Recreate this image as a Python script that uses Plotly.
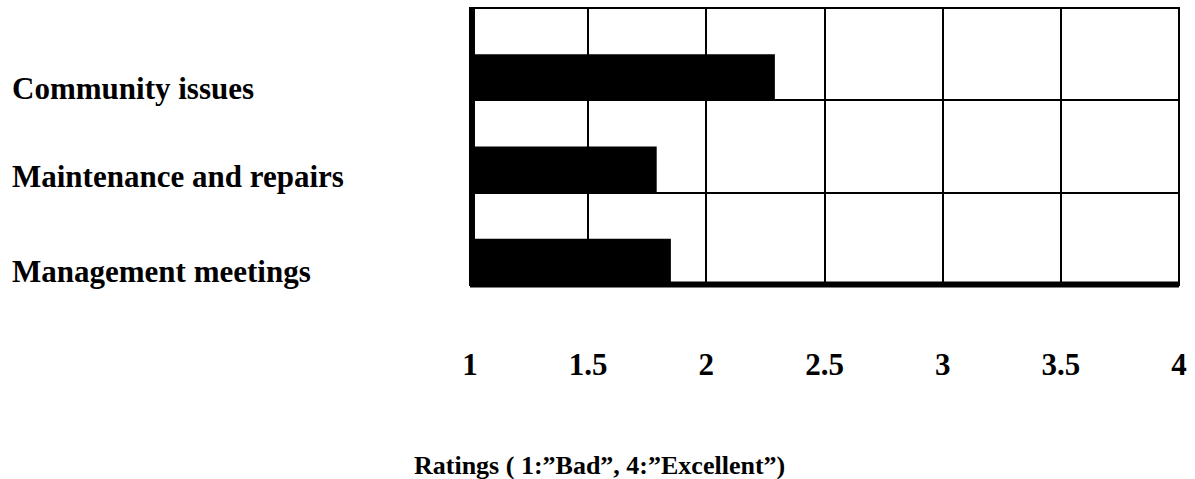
import plotly.graph_objects as go

# Ratings per topic (scale 1 = "Bad" to 4 = "Excellent")
topics = ["Community issues", "Maintenance and repairs", "Management meetings"]
ratings = [2.29, 1.79, 1.85]
x_ticks = [1, 1.5, 2, 2.5, 3, 3.5, 4]
x_tick_text = ["1", "1.5", "2", "2.5", "3", "3.5", "4"]
axis_title = "Ratings ( 1:\u201dBad\u201d, 4:\u201dExcellent\u201d)"

W, H = 1195, 479
L, R, T, B = 470, 12, 8, 194
plot_w, plot_h = W - L - R, H - T - B
FONT = "Liberation Serif"


def px_x(px):
    return (px - L) / plot_w


def px_y(py):
    return (H - B - py) / plot_h


positions = list(range(len(topics)))

fig = go.Figure()
fig.add_trace(go.Bar(
    y=positions,
    x=ratings,
    orientation="h",
    width=0.5,
    offset=0,
    marker=dict(color="black", line=dict(width=0)),
    showlegend=False,
    hoverinfo="skip",
))

fig.update_layout(
    width=W, height=H,
    margin=dict(l=L, r=R, t=T, b=B, pad=0),
    paper_bgcolor="white", plot_bgcolor="white",
    font=dict(family=FONT, color="black"),
    xaxis=dict(
        range=[1, 4], tickvals=x_ticks, ticktext=x_tick_text,
        showgrid=True, gridcolor="black", gridwidth=2,
        zeroline=False, showline=False, ticks="",
        ticklabelstandoff=58,
        tickfont=dict(family=FONT, size=31, color="black", weight="bold"),
    ),
    yaxis=dict(
        range=[len(topics) - 0.5, -0.5],
        tickvals=[p + 0.5 for p in positions[:-1]],
        showticklabels=False, showgrid=True, gridcolor="black", gridwidth=2,
        zeroline=False, showline=False, ticks="",
    ),
    shapes=[
        dict(type="rect", xref="paper", yref="paper", x0=0, x1=1, y0=0, y1=1,
             line=dict(color="black", width=2), layer="above"),
        dict(type="line", xref="paper", yref="paper", x0=px_x(472), x1=px_x(472), y0=0, y1=1,
             line=dict(color="black", width=6), layer="above"),
        dict(type="line", xref="paper", yref="paper", x0=0, x1=1, y0=px_y(284.5), y1=px_y(284.5),
             line=dict(color="black", width=6), layer="above"),
    ],
)

label_centers = [88, 176, 271]
for name, cy in zip(topics, label_centers):
    fig.add_annotation(
        text="<b>" + name + "</b>", x=px_x(7), y=px_y(cy), xref="paper", yref="paper",
        xanchor="left", yanchor="middle", showarrow=False,
        font=dict(family=FONT, size=31, color="black"),
    )

fig.add_annotation(
    text="<b>" + axis_title + "</b>", x=px_x(600), y=px_y(465), xref="paper", yref="paper",
    xanchor="center", yanchor="middle", showarrow=False,
    font=dict(family=FONT, size=26, color="black"),
)

fig.write_html("out.html")
